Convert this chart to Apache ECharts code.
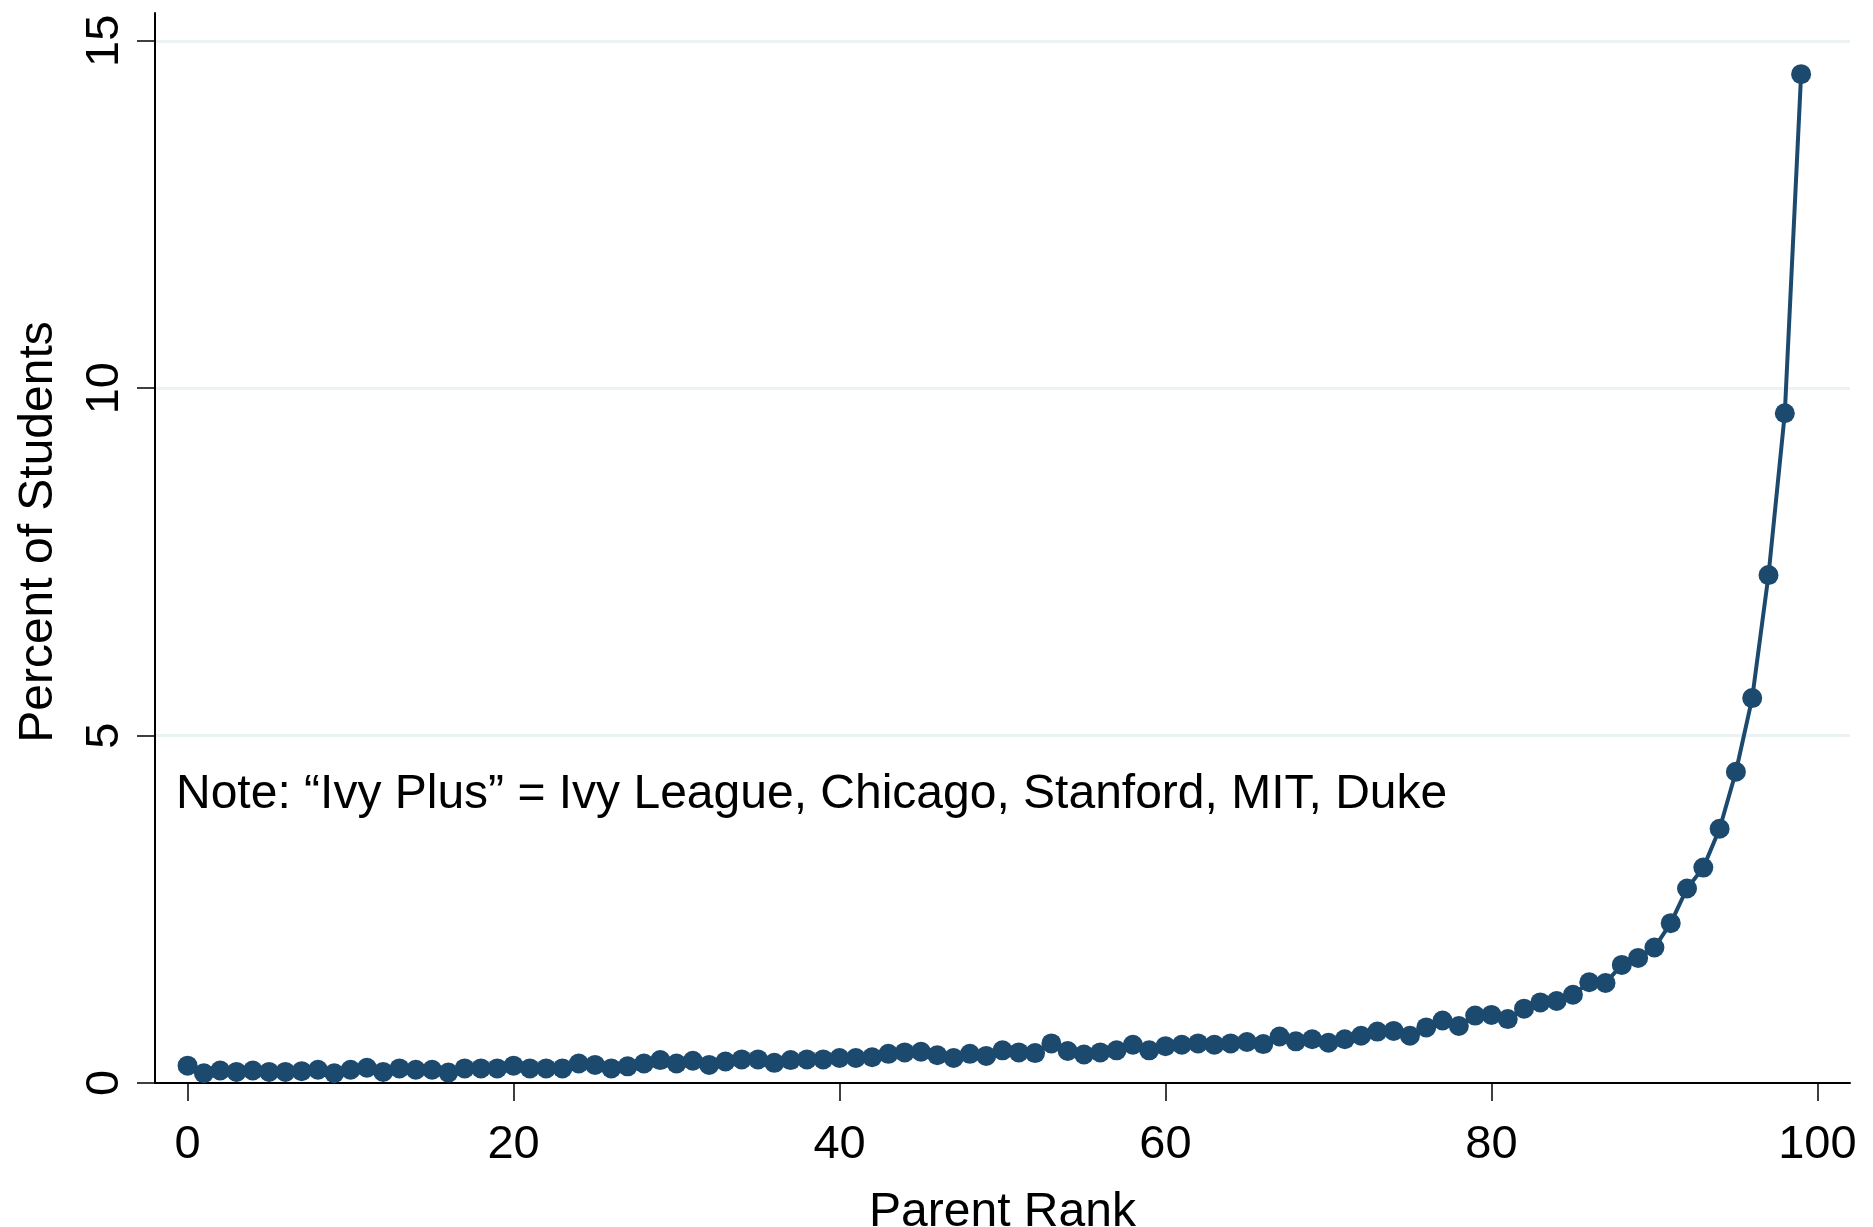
<!DOCTYPE html>
<html>
<head>
<meta charset="utf-8">
<title>Percent of Students by Parent Rank</title>
<script src="https://cdn.jsdelivr.net/npm/echarts@6/dist/echarts.min.js"></script>
<style>
	html, body { margin: 0; padding: 0; background: #fff; }
	#chart { width: 1873px; height: 1227px; }
</style>
</head>
<body>
<div id="chart"></div>
<script>
	// parent income rank (percentile) on x
	var parentRank = [
		0, 1, 2, 3, 4, 5, 6, 7, 8, 9, 10, 11, 12, 13, 14, 15, 16, 17, 18, 19,
		20, 21, 22, 23, 24, 25, 26, 27, 28, 29, 30, 31, 32, 33, 34, 35, 36, 37, 38, 39,
		40, 41, 42, 43, 44, 45, 46, 47, 48, 49, 50, 51, 52, 53, 54, 55, 56, 57, 58, 59,
		60, 61, 62, 63, 64, 65, 66, 67, 68, 69, 70, 71, 72, 73, 74, 75, 76, 77, 78, 79,
		80, 81, 82, 83, 84, 85, 86, 87, 88, 89, 90, 91, 92, 93, 94, 95, 96, 97, 98, 99
	];
	// percent of Ivy Plus students from each parent rank
	var pctStudents = [
		0.25, 0.14, 0.18, 0.16, 0.18, 0.16, 0.16, 0.17, 0.19, 0.14, 0.19, 0.22, 0.16, 0.21, 0.19, 0.19, 0.15, 0.21, 0.21, 0.21,
		0.25, 0.21, 0.21, 0.21, 0.28, 0.26, 0.21, 0.24, 0.28, 0.33, 0.28, 0.32, 0.26, 0.31, 0.34, 0.34, 0.29, 0.33, 0.34, 0.34,
		0.36, 0.36, 0.37, 0.42, 0.44, 0.45, 0.40, 0.36, 0.42, 0.39, 0.47, 0.44, 0.43, 0.57, 0.46, 0.41, 0.44, 0.47, 0.55, 0.47,
		0.53, 0.55, 0.57, 0.55, 0.57, 0.59, 0.56, 0.67, 0.60, 0.63, 0.58, 0.63, 0.68, 0.74, 0.75, 0.68, 0.80, 0.90, 0.82, 0.97,
		0.98, 0.92, 1.07, 1.16, 1.18, 1.27, 1.45, 1.44, 1.70, 1.80, 1.95, 2.30, 2.80, 3.10, 3.66, 4.48, 5.54, 7.31, 9.64, 14.52
	];
	var xTicks = [0, 20, 40, 60, 80, 100];
	var yTicks = [0, 5, 10, 15];
	var noteText = 'Note: \u201cIvy Plus\u201d = Ivy League, Chicago, Stanford, MIT, Duke';

	var navy = '#1c4a6f';
	var font = '"Liberation Sans", Arial, Helvetica, sans-serif';

	var seriesData = parentRank.map(function (r, i) {
		return [r, pctStudents[i]];
	});

	var myChart = echarts.init(document.getElementById('chart'));
	var option = {
		backgroundColor: '#fff',
		animation: false,
		grid: {
			left: 155,
			right: 23,
			top: 13,
			bottom: 144,
			outerBoundsMode: 'none',
			containLabel: false
		},
		xAxis: {
			type: 'value',
			min: -2,
			max: 102,
			name: 'Parent Rank',
			nameLocation: 'middle',
			nameGap: 106,
			nameTextStyle: { color: '#000', fontSize: 48, fontFamily: font },
			axisLine: { show: true, onZero: false, lineStyle: { color: '#000', width: 2 } },
			axisTick: { show: true, length: 18, customValues: xTicks, lineStyle: { color: '#000', width: 1.5 } },
			axisLabel: { customValues: xTicks, margin: 39, color: '#000', fontSize: 47, fontFamily: font },
			splitLine: { show: false }
		},
		yAxis: {
			type: 'value',
			min: 0,
			max: 15.4,
			interval: 5,
			name: 'Percent of Students',
			nameLocation: 'middle',
			nameGap: 92,
			nameTextStyle: { color: '#000', fontSize: 48, fontFamily: font, padding: [0, 0, 0, 32] },
			axisLine: { show: true, onZero: false, lineStyle: { color: '#000', width: 2 } },
			axisTick: { show: true, length: 18, customValues: yTicks, lineStyle: { color: '#000', width: 1.5 } },
			axisLabel: { customValues: yTicks, rotate: 90, margin: 26, color: '#000', fontSize: 47, fontFamily: font },
			splitLine: {
				show: true,
				showMinLine: false,
				showMaxLine: true,
				lineStyle: { color: '#eaf2f3', width: 3 }
			}
		},
		graphic: [{
			type: 'text',
			left: 176,
			top: 771,
			style: {
				text: noteText,
				fill: '#000',
				font: '48px ' + font
			}
		}],
		series: [{
			type: 'line',
			data: seriesData,
			symbol: 'circle',
			symbolSize: 20,
			showAllSymbol: true,
			itemStyle: { color: navy },
			lineStyle: { color: navy, width: 4 },
			z: 3
		}]
	};
	myChart.setOption(option);
</script>
</body>
</html>
